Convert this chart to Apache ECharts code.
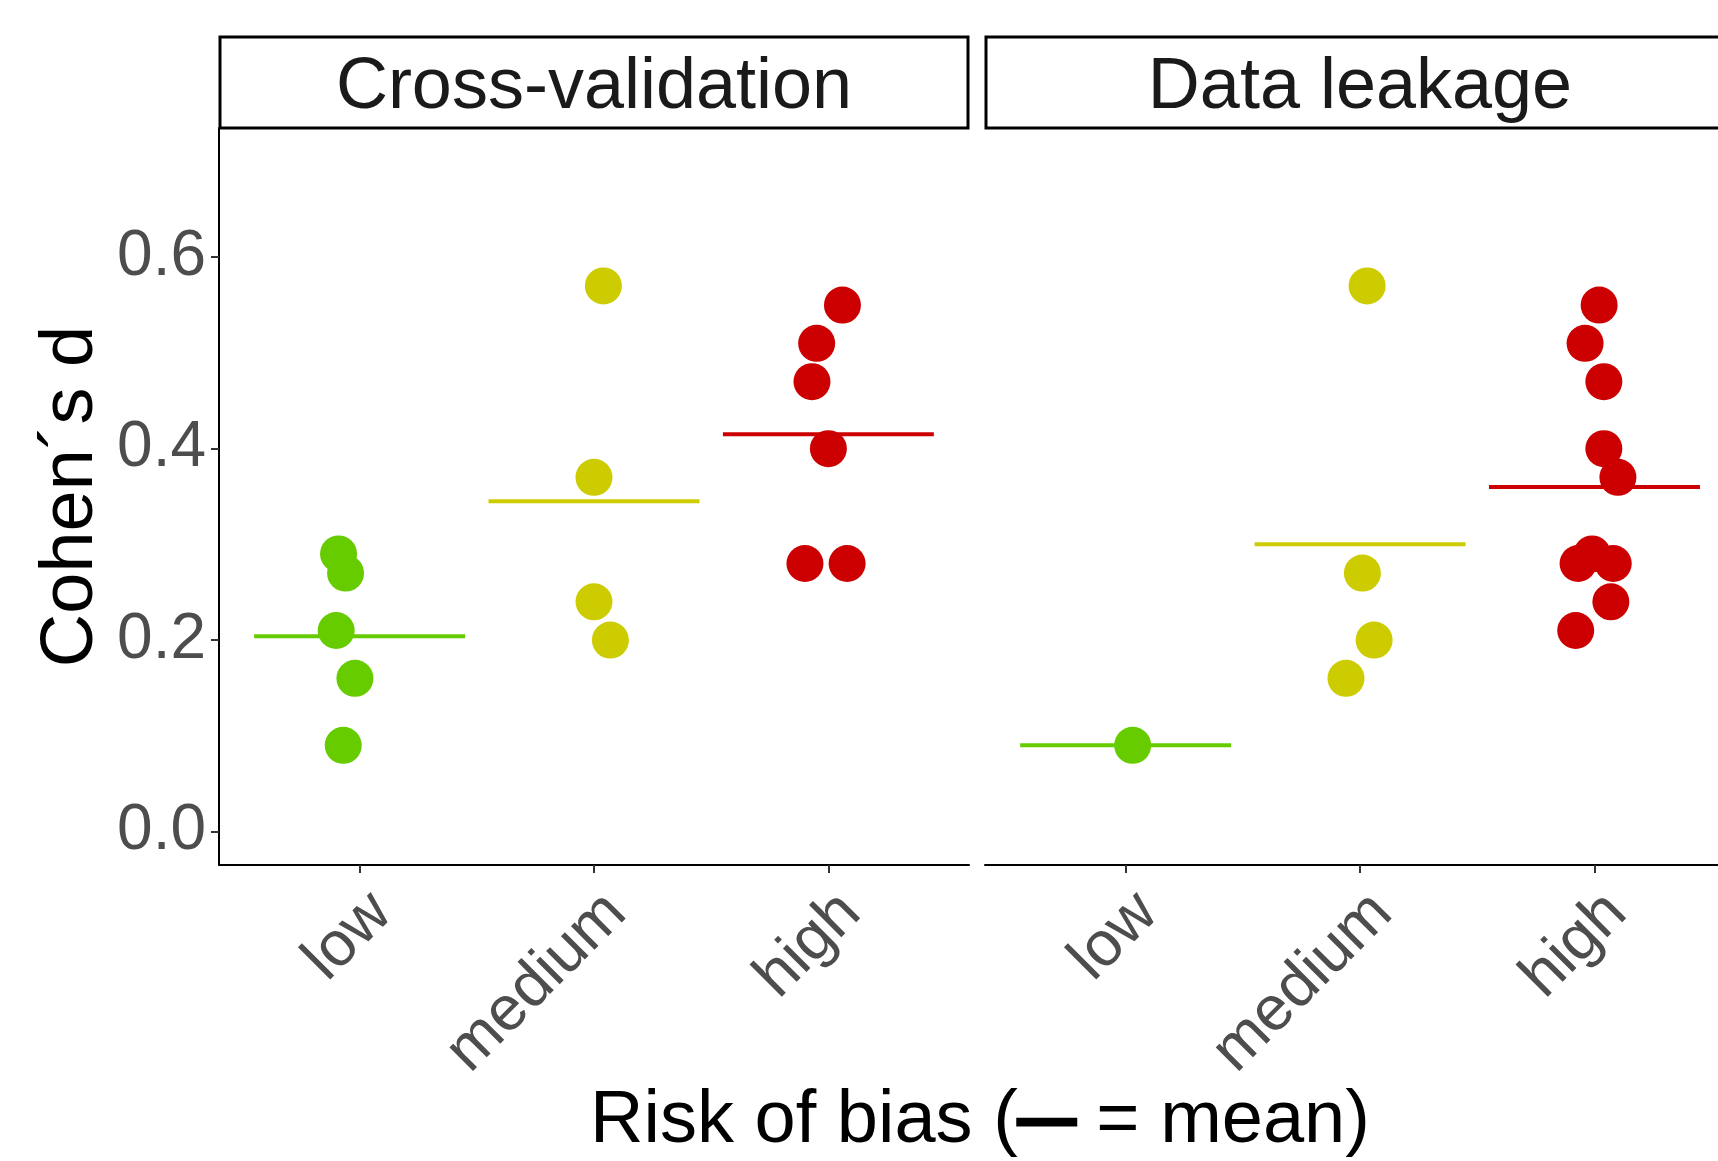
<!DOCTYPE html>
<html><head><meta charset="utf-8">
<script src="https://cdn.jsdelivr.net/npm/echarts@6/dist/echarts.min.js"></script>
<style>html,body{margin:0;padding:0;background:#fff}#c{width:1718px;height:1161px}</style>
</head><body><div id="c"></div>
<script>
// ---- data ----
const panels = ['Cross-validation', 'Data leakage'];
const categories = ['low', 'medium', 'high'];
const yTicks = [0, 0.2, 0.4, 0.6];
const colors = ['#66CC00', '#CCCC00', '#CC0000'];

// Cross-validation (values and horizontal jitter)
const cvLowY = [0.29, 0.27, 0.21, 0.16, 0.09];
const cvLowJit = [-0.09, -0.06, -0.10, -0.02, -0.07];
const cvMedY = [0.57, 0.37, 0.24, 0.20];
const cvMedJit = [0.04, 0.00, 0.00, 0.07];
const cvHighY = [0.55, 0.51, 0.47, 0.40, 0.28, 0.28];
const cvHighJit = [0.06, -0.05, -0.07, 0.00, -0.10, 0.08];

// Data leakage
const dlLowY = [0.09];
const dlLowJit = [0.03];
const dlMedY = [0.57, 0.27, 0.20, 0.16];
const dlMedJit = [0.03, 0.01, 0.06, -0.06];
const dlHighY = [0.55, 0.51, 0.47, 0.40, 0.37, 0.29, 0.28, 0.28, 0.24, 0.21];
const dlHighJit = [0.02, -0.04, 0.04, 0.04, 0.10, -0.01, -0.07, 0.08, 0.07, -0.08];

const groups = [
  [[cvLowY, cvLowJit], [cvMedY, cvMedJit], [cvHighY, cvHighJit]],
  [[dlLowY, dlLowJit], [dlMedY, dlMedJit], [dlHighY, dlHighJit]]
];

// ---- chart ----
const FONT = '"Liberation Sans", Arial, sans-serif';
const chart = echarts.init(document.getElementById('c'), null, {renderer: 'canvas'});

const gridLeft = [219, 985];
const gridWidth = [750, 733];      // right panel is cut by the image edge
const xMax = [2.6, 2.527];         // same scale (px per unit) in both panels
const gridTop = 128, gridH = 737;

const grids = [], xAxes = [], yAxes = [], series = [];
for (let p = 0; p < 2; p++) {
  grids.push({left: gridLeft[p], top: gridTop, width: gridWidth[p], height: gridH, containLabel: false});
  xAxes.push({
    type: 'value', gridIndex: p, min: -0.6, max: xMax[p],
    splitLine: {show: false},
    axisLine: {show: true, onZero: false, lineStyle: {color: '#000', width: 2}},
    axisTick: {show: true, customValues: [0, 1, 2], length: 8, lineStyle: {color: '#333', width: 2}},
    axisLabel: {
      customValues: [0, 1, 2],
      formatter: v => categories[Math.round(v)],
      rotate: 45, align: 'right', verticalAlign: 'top',
      fontSize: 63, color: '#4D4D4D', margin: 16, fontFamily: FONT
    }
  });
  yAxes.push({
    type: 'value', gridIndex: p, min: -0.035, max: 0.735,
    splitLine: {show: false},
    axisLine: {show: p === 0, onZero: false, lineStyle: {color: '#000', width: 2}},
    axisTick: {show: p === 0, customValues: yTicks, length: 8, lineStyle: {color: '#333', width: 2}},
    axisLabel: {
      show: p === 0, customValues: yTicks,
      formatter: v => v.toFixed(1),
      fontSize: 64, color: '#4D4D4D', margin: 13, fontFamily: FONT
    },
    name: p === 0 ? 'Cohen\u00b4s d' : '',
    nameLocation: 'middle', nameGap: 110,
    nameTextStyle: {fontSize: 74, color: '#000', fontFamily: FONT}
  });
  for (let c = 0; c < 3; c++) {
    const [ys, js] = groups[p][c];
    const mean = ys.reduce((a, b) => a + b, 0) / ys.length;
    series.push({
      type: 'line', xAxisIndex: p, yAxisIndex: p, silent: true,
      data: [[c - 0.45, mean], [c + 0.45, mean]],
      symbol: 'none', lineStyle: {color: colors[c], width: 4}, z: 2, animation: false
    });
    series.push({
      type: 'scatter', xAxisIndex: p, yAxisIndex: p,
      data: ys.map((y, i) => [c + js[i], y]),
      symbolSize: 37, itemStyle: {color: colors[c], opacity: 1}, z: 3, animation: false
    });
  }
}

const graphics = [];
for (let p = 0; p < 2; p++) {
  graphics.push({
    type: 'rect', shape: {x: gridLeft[p] + 1, y: 37, width: 748, height: 91},
    style: {fill: '#fff', stroke: '#000', lineWidth: 3}, z: 10
  });
  graphics.push({
    type: 'text', x: gridLeft[p] + 375, y: 88, z: 11,
    style: {text: panels[p], font: '72px ' + FONT, fill: '#1A1A1A', textAlign: 'center', textVerticalAlign: 'middle'}
  });
}
graphics.push({
  type: 'text', x: 980, y: 1122, z: 11,
  style: {
    text: 'Risk of bias ({d|\u2014} = mean)',
    font: '74px ' + FONT, fill: '#000', textAlign: 'center', textVerticalAlign: 'middle',
    rich: {d: {fontSize: 58, fontWeight: 'bold', fontFamily: FONT, fill: '#000', stroke: '#000', lineWidth: 3}}
  }
});

chart.setOption({
  backgroundColor: '#fff',
  animation: false,
  grid: grids, xAxis: xAxes, yAxis: yAxes, series: series,
  graphic: graphics
});
</script></body></html>
